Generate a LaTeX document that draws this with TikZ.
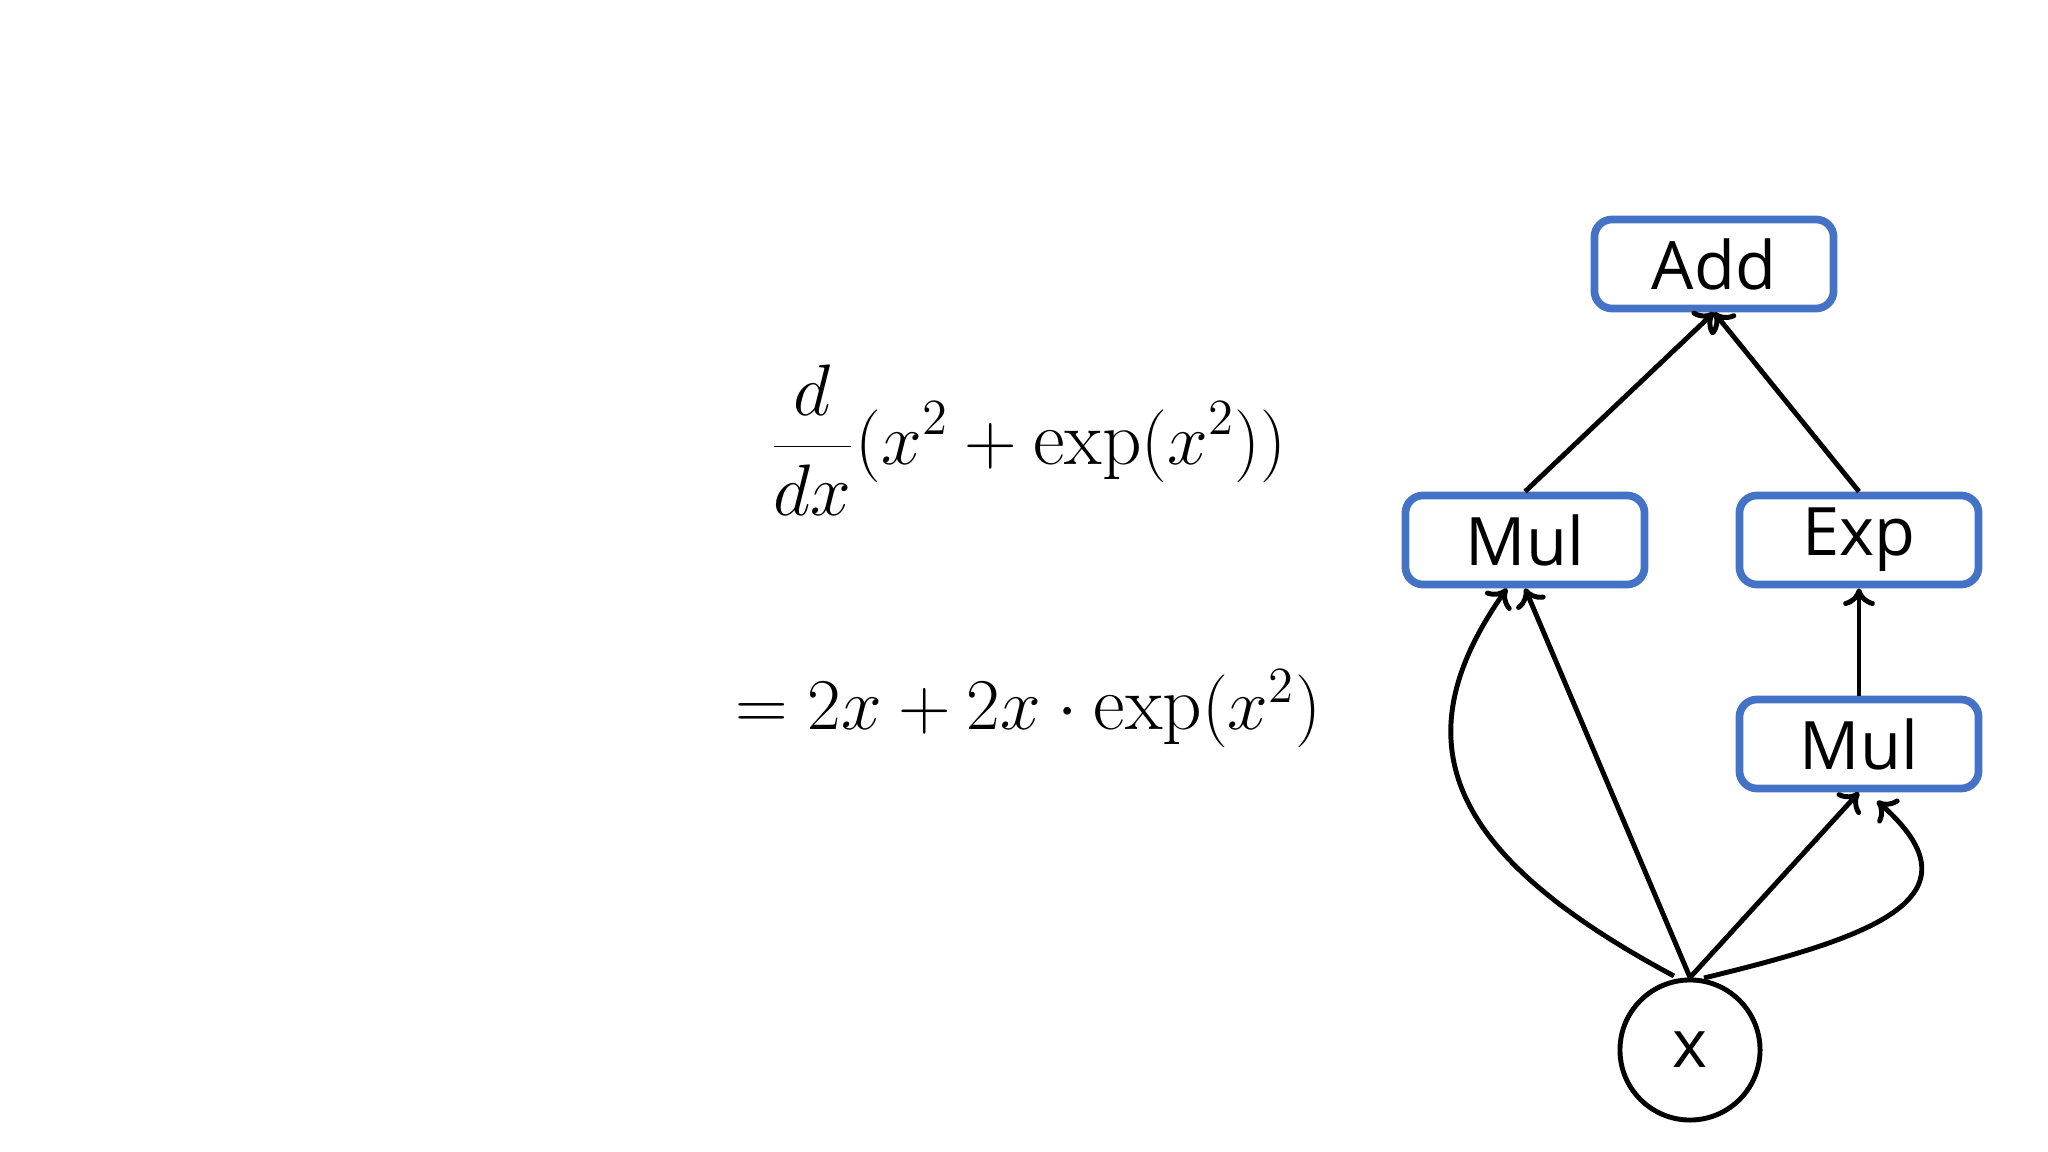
\documentclass[tikz,border=0pt]{standalone}
\usepackage{fontspec}
\setsansfont{Open Sans}
\usetikzlibrary{arrows.meta}
\begin{document}
\begin{tikzpicture}[x=0.01cm,y=-0.01cm,
  op/.style={draw=blue!45!black!40!cyan!0, draw={rgb,255:red,68;green,114;blue,196}, line width=2.2pt, rounded corners=5pt, minimum width=2.39cm, minimum height=0.89cm, font=\sffamily\fontsize{19}{22}\selectfont, inner sep=0pt},
  edge/.style={line width=1.4pt, -{To[length=5pt,width=9pt,line width=1.4pt]}}]
\useasboundingbox (0,0) rectangle (2048,1152);
\node[op] (add) at (1714,264) {Add};
\node[op] (mul1) at (1525,540) {Mul};
\node[op] (exp) at (1859,540) {Exp};
\node[op] (mul2) at (1859,744) {Mul};
\node[draw, circle, line width=1.4pt, minimum size=1.4cm, inner sep=0pt, font=\sffamily\fontsize{19}{22}\selectfont] (x) at (1690,1050) {x};
\node (f1) at (1028,440) {\fontsize{22}{26}\selectfont$\displaystyle\frac{d}{dx}(x^2+\exp(x^2))$};
\node (f2) at (1028,709) {\fontsize{22}{26}\selectfont$=2x+2x\cdot\exp(x^2)$};
\coordinate (s1) at (1674,976);
\coordinate (s2) at (1704,978);
\draw[edge] (s1) .. controls (1444,853) and (1400,740) .. (mul1.south west -| 1507,0) ;
\draw[edge] (x.north) -- (mul1.south);
\draw[edge] (x.north) -- (mul2.south);
\draw[edge] (s2) .. controls (1864,939) and (1990,900) .. (1877,801);
\draw[edge] (mul1.north) -- (add.south);
\draw[edge] (exp.north) -- (add.south);
\draw[edge] (mul2.north) -- (exp.south);
\end{tikzpicture}
\end{document}
